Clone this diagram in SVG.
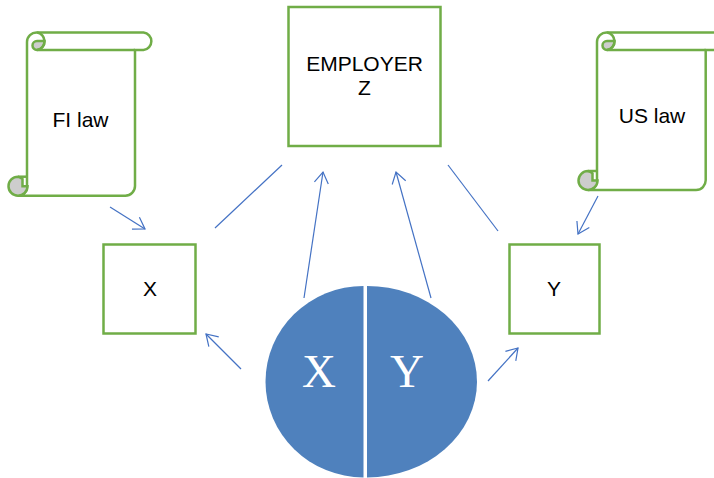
<svg xmlns="http://www.w3.org/2000/svg" width="714" height="478" viewBox="0 0 714 478">
<defs>
<marker id="a" markerUnits="userSpaceOnUse" markerWidth="20" markerHeight="20" refX="14" refY="8" orient="auto"><path d="M3 1 L14 8 L3 15" fill="none" stroke="#4472c4" stroke-width="1.2"/></marker>
</defs>
<style>
.b{fill:#fff;stroke:#70ad47;stroke-width:2.5}
.s{fill:none;stroke:#70ad47;stroke-width:2.5}
.g{fill:#cdcdcd;stroke:#70ad47;stroke-width:2.5}
.t{font-family:"Liberation Sans",Arial,sans-serif;font-size:21px;fill:#000;text-anchor:middle}
.w{font-family:"Liberation Serif","Times New Roman",serif;font-size:47px;fill:#fff;text-anchor:middle}
.c{fill:none;stroke:#4472c4;stroke-width:1.2}
.e{fill:#4f81bd}
</style>
<g id="connectors">
<path class="c" marker-end="url(#a)" d="M110 207 L145 229"/>
<path class="c" marker-end="url(#a)" d="M598 196 L578 234"/>
<path class="c" d="M215 228 L282 165"/>
<path class="c" d="M498 231 L448 165"/>
<path class="c" marker-end="url(#a)" d="M304 298 L323 172"/>
<path class="c" marker-end="url(#a)" d="M431 298 L396 172"/>
<path class="c" marker-end="url(#a)" d="M241 369 L206 334"/>
<path class="c" marker-end="url(#a)" d="M488 381 L518 348"/>
</g>
<g id="fi-law">
<path class="b" d="M37 32.500 H143.500 A8.800 8.800 0 0 1 143.500 50 H135 V186 A9.700 9.700 0 0 1 125.300 195.700 H18 A9 9 0 0 0 27 186.700 V42 A9.500 9.500 0 0 1 37 32.500 Z"/>
<path class="g" d="M18 176.700 A9.500 9.500 0 1 0 27.500 186.200 H22.500 V179 A9.500 9.500 0 0 0 18 176.700 Z"/>
<path class="s" d="M18 176.700 H27"/>
<path class="g" d="M37 50 A4.400 4.400 0 0 1 37 41 H44.500 A8.800 8.800 0 0 1 37 50 Z"/>
<path class="s" d="M37 32.500 A8.800 8.800 0 0 1 44.500 41 A8.800 8.800 0 0 1 37 50 H135"/>
<text class="t" x="80.500" y="126.500">FI law</text>
</g>
<g id="employer-z">
<rect class="b" x="288.500" y="7" width="152" height="139"/>
<text class="t" x="364.500" y="71">EMPLOYER</text>
<text class="t" x="364.500" y="95">Z</text>
</g>
<g id="us-law">
<path class="b" d="M607 32.500 H725 V50 H705.700 V180 A9.700 9.700 0 0 1 696 190 H588 A9 9 0 0 0 597 181 V42 A9.500 9.500 0 0 1 607 32.500 Z"/>
<path class="g" d="M588 171 A9.500 9.500 0 1 0 597.500 180.500 H592.500 V173.300 A9.500 9.500 0 0 0 588 171 Z"/>
<path class="s" d="M588 171 H597"/>
<path class="g" d="M607 50 A4.400 4.400 0 0 1 607 41 H614.500 A8.800 8.800 0 0 1 607 50 Z"/>
<path class="s" d="M607 32.500 A8.800 8.800 0 0 1 614.500 41 A8.800 8.800 0 0 1 607 50 H705.700"/>
<text class="t" x="652" y="123">US law</text>
</g>
<g id="x">
<rect class="b" x="103.500" y="244.500" width="92" height="89"/>
<text class="t" x="150" y="296">X</text>
</g>
<g id="y">
<rect class="b" x="509.500" y="244.500" width="90" height="89"/>
<text class="t" x="554" y="296">Y</text>
</g>
<g id="xy-circle">
<path class="e" d="M363.500 286 A98 95.700 0 0 0 363.500 477.400 Z"/>
<path class="e" d="M367 286 A110 95.700 0 0 1 367 477.400 Z"/>
<text class="w" x="319" y="387">X</text>
<text class="w" x="407" y="387">Y</text>
</g>
</svg>
